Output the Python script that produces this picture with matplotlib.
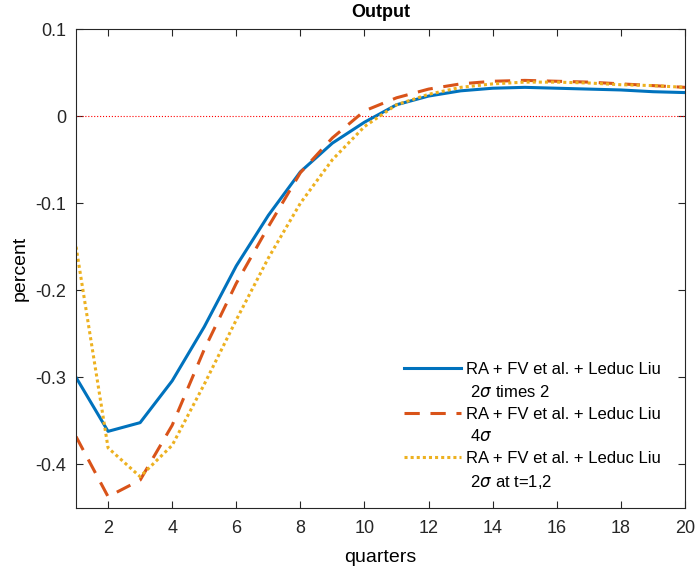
import matplotlib
matplotlib.use("Agg")
import matplotlib.pyplot as plt
from matplotlib.lines import Line2D

plt.rcParams["font.family"] = ["Liberation Sans", "DejaVu Sans"]
plt.rcParams["mathtext.fontset"] = "dejavusans"

quarters = list(range(1, 21))

# 2 sigma times 2
ra_times2 = [-0.300, -0.362, -0.352, -0.304, -0.242, -0.172, -0.114, -0.064, -0.031, -0.007,
             0.013, 0.023, 0.029, 0.032, 0.033, 0.032, 0.031, 0.030, 0.028, 0.027]
# 4 sigma
ra_4sigma = [-0.368, -0.437, -0.418, -0.355, -0.268, -0.192, -0.127, -0.065, -0.025, 0.006,
             0.021, 0.031, 0.037, 0.040, 0.041, 0.040, 0.039, 0.037, 0.035, 0.033]
# 2 sigma at t=1,2
ra_t12 = [-0.150, -0.381, -0.414, -0.378, -0.308, -0.234, -0.163, -0.100, -0.050, -0.012,
          0.013, 0.025, 0.033, 0.037, 0.039, 0.039, 0.038, 0.036, 0.035, 0.033]

line1 = "RA + FV et al. + Leduc Liu"
labels2 = [r" 2$\sigma$ times 2", r" 4$\sigma$", r" 2$\sigma$ at t=1,2"]

blue, red, yellow = "#0072BD", "#D95319", "#EDB120"

fig = plt.figure(figsize=(6.95, 5.72), dpi=100)
ax = fig.add_axes([0.1094, 0.1119, 0.8762, 0.8374])

ax.axhline(0, color="red", linestyle=":", linewidth=0.8)
l1, = ax.plot(quarters, ra_times2, color=blue, linewidth=2.2)
l2, = ax.plot(quarters, ra_4sigma, color=red, linewidth=2.2, linestyle=(0, (5, 3.5)))
l3, = ax.plot(quarters, ra_t12, color=yellow, linewidth=2.2, linestyle=(0, (1, 1)))

ax.set_xlim(1, 20)
ax.set_ylim(-0.45, 0.1)
ax.set_xticks(range(2, 21, 2))
ax.set_yticks([-0.4, -0.3, -0.2, -0.1, 0, 0.1])
ax.set_yticklabels(["-0.4", "-0.3", "-0.2", "-0.1", "0", "0.1"])
ax.tick_params(direction="in", top=True, right=True, labelsize=13, length=5, width=0.8,
               colors="#262626")
ax.tick_params(axis="x", pad=9)
ax.tick_params(axis="y", pad=7)
for s in ax.spines.values():
    s.set_color("#262626")
    s.set_linewidth(0.8)

ax.set_title("Output", fontsize=13, fontweight="bold", pad=9)
ax.set_xlabel("quarters", fontsize=14, labelpad=8)
ax.set_ylabel("percent", fontsize=14, labelpad=5)

blank = Line2D([], [], color="none")
handles = [l1, blank, l2, blank, l3, blank]
labels = [line1, labels2[0], line1, labels2[1], line1, labels2[2]]
ax.legend(handles, labels, loc="lower right", frameon=False, fontsize=12,
          handlelength=3.4, handletextpad=0.3, labelspacing=0.41,
          bbox_to_anchor=(0.985, 0.004))

fig.savefig("out.png", dpi=100)
